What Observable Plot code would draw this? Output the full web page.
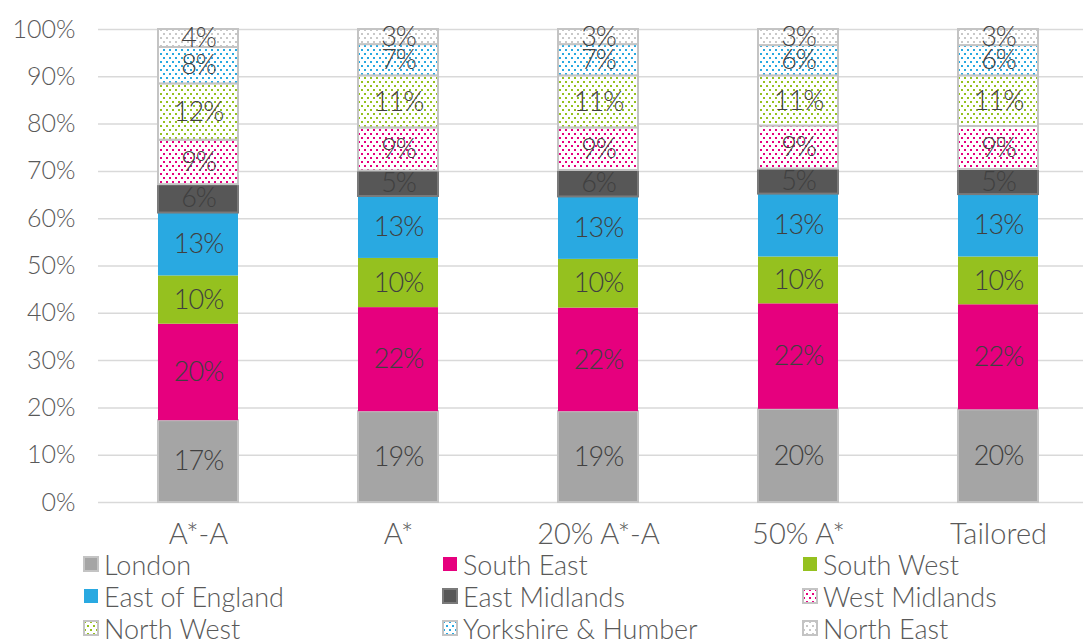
<!DOCTYPE html>
<html>
<head>
<meta charset="utf-8">
<script src="https://cdn.jsdelivr.net/npm/d3@7"></script>
<script src="https://cdn.jsdelivr.net/npm/@observablehq/plot@0.6"></script>
<style>
  html, body { margin: 0; padding: 0; background: #fff; }
  body { width: 1083px; height: 641px; overflow: hidden; font-family: Lato, "Open Sans", sans-serif; font-weight: 300; }
  #legend { position: relative; height: 92px; color: #595959; font-size: 27px; }
  .item { position: absolute; height: 32px; display: flex; align-items: center; white-space: nowrap; }
  .item svg { margin-right: 5px; }
  g[aria-label="text"] text { letter-spacing: -1px; }
</style>
</head>
<body>
<svg width="0" height="0" style="position:absolute">
  <defs>
    <pattern id="p-wm" width="6" height="8" patternUnits="userSpaceOnUse">
      <rect width="6" height="8" fill="#fff"/>
      <rect x="1" y="1" width="2" height="2" fill="#e6007e"/>
      <rect x="4" y="5" width="2" height="2" fill="#e6007e"/>
    </pattern>
    <pattern id="p-nw" width="6" height="8" patternUnits="userSpaceOnUse">
      <rect width="6" height="8" fill="#fff"/>
      <rect x="1" y="1" width="2" height="2" fill="#95c11f"/>
      <rect x="4" y="5" width="2" height="2" fill="#95c11f"/>
    </pattern>
    <pattern id="p-yh" width="6" height="8" patternUnits="userSpaceOnUse">
      <rect width="6" height="8" fill="#fff"/>
      <rect x="1" y="1" width="2" height="2" fill="#29a9e1"/>
      <rect x="4" y="5" width="2" height="2" fill="#29a9e1"/>
    </pattern>
    <pattern id="p-ne" width="6" height="8" patternUnits="userSpaceOnUse">
      <rect width="6" height="8" fill="#fff"/>
      <rect x="1" y="1" width="2" height="2" fill="#c8c8c8"/>
      <rect x="4" y="5" width="2" height="2" fill="#c8c8c8"/>
    </pattern>
  </defs>
</svg>
<div id="chart"></div>
<div id="legend"></div>
<script>
const categories = ["A*-A", "A*", "20% A*-A", "50% A*", "Tailored"];
const regions = ["London", "South East", "South West", "East of England", "East Midlands",
                 "West Midlands", "North West", "Yorkshire & Humber", "North East"];

const london      = [17.3, 19.2, 19.2, 19.7, 19.6];
const southEast   = [20.4, 22.0, 21.9, 22.3, 22.2];
const southWest   = [10.2, 10.4, 10.3,  9.9, 10.1];
const eastEngland = [13.3, 13.1, 13.2, 13.3, 13.2];
const eastMid     = [ 6.0,  5.4,  5.6,  5.3,  5.3];
const westMid     = [ 9.4,  9.1,  9.0,  9.1,  9.1];
const northWest   = [11.9, 11.0, 11.0, 10.6, 10.7];
const yorkshire   = [ 7.7,  6.6,  6.6,  6.4,  6.4];
const northEast   = [ 3.8,  3.2,  3.2,  3.4,  3.4];

const yTicks = [0, 10, 20, 30, 40, 50, 60, 70, 80, 90, 100];

const series = [london, southEast, southWest, eastEngland, eastMid, westMid, northWest, yorkshire, northEast];
const fills = ["#a5a5a5", "#e6007e", "#95c11f", "#29a9e1", "#575757",
               "url(#p-wm)", "url(#p-nw)", "url(#p-yh)", "url(#p-ne)"];
const strokes = ["#c4c4c4", "transparent", "transparent", "transparent", "#7a7a7a",
                 "#c4c4c4", "#c4c4c4", "#c4c4c4", "#c4c4c4"];

const data = [];
categories.forEach((c, i) => {
  regions.forEach((r, j) => {
    data.push({category: c, region: r, value: series[j][i], ri: j});
  });
});

const chart = Plot.plot({
  width: 1083,
  height: 549,
  marginTop: 29,
  marginBottom: 47,
  marginLeft: 98,
  marginRight: 0,
  style: {fontFamily: "Lato, 'Open Sans', sans-serif", fontSize: "25px", fontWeight: 300, color: "#595959", overflow: "visible"},
  x: {domain: categories, range: [98, 1098], paddingInner: 0.6, paddingOuter: 0.3, label: null},
  y: {domain: [0, 100], label: null},
  color: {domain: regions, range: fills},
  marks: [
    Plot.ruleY(yTicks, {stroke: "#d9d9d9", strokeWidth: 1.5}),
    Plot.axisY(yTicks, {tickFormat: d => d + "%", tickSize: 0, tickPadding: 23, fontSize: 25, label: null}),
    Plot.axisX({tickSize: 0, tickPadding: 21, fontSize: 29, label: null}),
    Plot.barY(data, Plot.stackY({
      x: "category", y: "value", fill: "region", order: regions,
      stroke: d => strokes[d.ri], strokeWidth: 2
    })),
    Plot.text(data, Plot.stackY({
      x: "category", y: "value", z: "region", order: regions,
      text: d => Math.round(d.value) + "%",
      fill: "#404040", fontSize: 27, fontWeight: 300
    }))
  ]
});
document.getElementById("chart").appendChild(chart);

const legend = document.getElementById("legend");
const colX = [83, 442, 802];
regions.forEach((r, j) => {
  const col = j % 3, row = Math.floor(j / 3);
  const div = document.createElement("div");
  div.className = "item";
  div.style.left = colX[col] + "px";
  div.style.top = (row * 32 - 1) + "px";
  const stroke = strokes[j] === "transparent" ? "none" : strokes[j];
  div.innerHTML = `<svg width="16" height="16"><rect x="1" y="1" width="14" height="14" fill="${fills[j]}" stroke="${stroke}" stroke-width="2"/></svg><span>${r.replace("&", "&amp;")}</span>`;
  legend.appendChild(div);
});
</script>
</body>
</html>
